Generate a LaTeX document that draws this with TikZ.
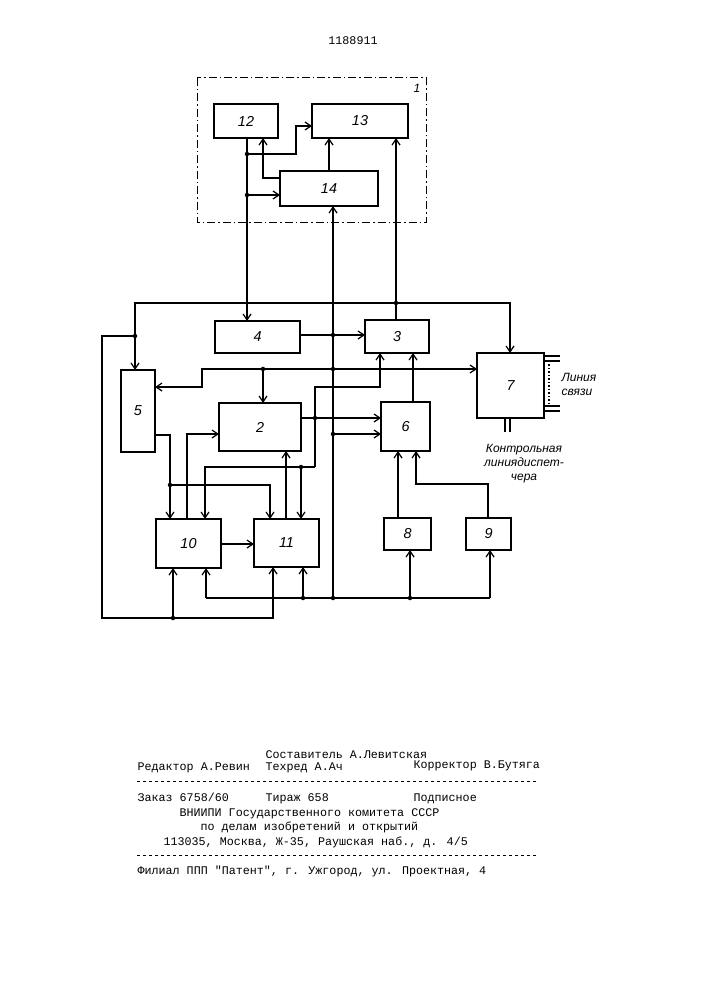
\documentclass[tikz,border=0pt]{standalone}
\usepackage{fontspec}
\setmainfont{Liberation Sans}
\newfontfamily\monof{Liberation Mono}
\usetikzlibrary{arrows.meta}
\begin{document}
\begin{tikzpicture}[x=1pt,y=-1pt,line width=1.2pt,
  ar/.style={-{Straight Barb[length=6pt,width=8pt]}},
  dot/.style={circle,fill,inner sep=0,minimum size=4.5pt},
  ft/.style={anchor=base west,yshift=-4pt,font=\monof\fontsize{11.7}{13}\selectfont,inner sep=0}]
\useasboundingbox (0,0) rectangle (707,1000);
\node at (353,41) {\monof\fontsize{11.7}{13}\selectfont 1188911};
\draw[dash pattern=on 8pt off 3pt on 1.5pt off 3pt,line width=1pt] (197,78) rectangle (426,223);
\node[font=\itshape\large] at (417,88) {1};
\newcommand{\bx}[5]{\draw (#1,#2) rectangle (#3,#4); \node[font=\itshape\Large] (n#5) at ({(#1+#3)/2},{(#2+#4)/2}) {#5};}
\bx{214}{104}{278}{138}{12}
\bx{312}{104}{408}{138}{13}
\bx{280}{171}{378}{206}{14}
\bx{215}{321}{300}{353}{4}
\bx{365}{320}{429}{353}{3}
\bx{121}{370}{155}{452}{5}
\bx{219}{403}{301}{451}{2}
\bx{381}{402}{430}{451}{6}
\bx{477}{353}{544}{418}{7}
\bx{156}{519}{221}{568}{10}
\bx{254}{519}{319}{567}{11}
\bx{384}{518}{431}{550}{8}
\bx{466}{518}{511}{550}{9}
\foreach \p in {(247,154),(247,195),(333,335),(333,369),(333,434),(333,598),(396,303),(135,336),(173,618),(263,369),(315,418),(301,467),(170,485),(303,598),(410,598)}
  \node[dot] at \p {};
\draw[ar] (247,138) -- (247,321);
\draw[ar] (247,154) -- (296,154) -- (296,126) -- (312,126);
\draw[ar] (247,195) -- (280,195);
\draw[ar] (280,178) -- (263,178) -- (263,138);
\draw[ar] (329,171) -- (329,138);
\draw[ar] (333,598) -- (333,206);
\draw[ar] (396,320) -- (396,138);
\draw[ar] (396,303) -- (135,303) -- (135,370);
\draw[ar] (396,303) -- (510,303) -- (510,353);
\draw[ar] (135,336) -- (102,336) -- (102,618) -- (273,618) -- (273,567);
\draw[ar] (173,618) -- (173,568);
\draw[ar] (300,335) -- (365,335);
\draw[ar] (263,369) -- (477,369);
\draw[ar] (263,369) -- (202,369) -- (202,387) -- (155,387);
\draw[ar] (263,369) -- (263,403);
\draw[ar] (301,418) -- (381,418);
\draw[ar] (315,467) -- (315,387) -- (380,387) -- (380,353);
\draw[ar] (315,467) -- (205,467) -- (205,519);
\draw[ar] (301,467) -- (301,519);
\draw[ar] (286,519) -- (286,451);
\draw[ar] (333,434) -- (381,434);
\draw[ar] (155,435) -- (170,435) -- (170,519);
\draw[ar] (170,485) -- (270,485) -- (270,519);
\draw[ar] (187,519) -- (187,434) -- (219,434);
\draw[ar] (221,544) -- (254,544);
\draw[ar] (413,402) -- (413,353);
\draw[ar] (398,518) -- (398,451);
\draw[ar] (488,518) -- (488,484) -- (416,484) -- (416,451);
\draw[ar] (206,598) -- (206,568);
\draw (206,598) -- (490,598);
\draw[ar] (490,598) -- (490,550);
\draw[ar] (303,598) -- (303,567);
\draw[ar] (410,598) -- (410,550);
\draw (544,356) -- (560,356) (544,361) -- (560,361) (544,406) -- (560,406) (544,411) -- (560,411);
\draw[dotted,line width=1.5pt] (549,364) -- (549,404);
\draw (505,418) -- (505,432) (510,418) -- (510,432);
\node[font=\itshape\large,align=left,anchor=west,inner sep=0] at (561,384) {Линия\\связи};
\node[font=\itshape\large,align=center,inner sep=0] at (524,464) {Контрольная\\линиядиспет-\\чера};
\node[ft] at (265,754) {Составитель А.Левитская};
\node[ft] at (137,766) {Редактор А.Ревин};
\node[ft] at (265,766) {Техред А.Ач};
\node[ft] at (413,764) {Корректор В.Бутяга};
\draw[dashed,line width=0.7pt] (137,781) -- (537,781);
\node[ft] at (137,797) {Заказ 6758/60};
\node[ft] at (265,797) {Тираж 658};
\node[ft] at (413,797) {Подписное};
\node[ft] at (179,812) {ВНИИПИ Государственного комитета СССР};
\node[ft] at (200,826) {по делам изобретений и открытий};
\node[ft] at (163,841) {113035, Москва, Ж-35, Раушская наб., д. 4/5};
\draw[dashed,line width=0.7pt] (137,855) -- (537,855);
\node[ft] at (137,870) {Филиал ППП "Патент", г. Ужгород, ул. Проектная, 4};
\end{tikzpicture}
\end{document}
